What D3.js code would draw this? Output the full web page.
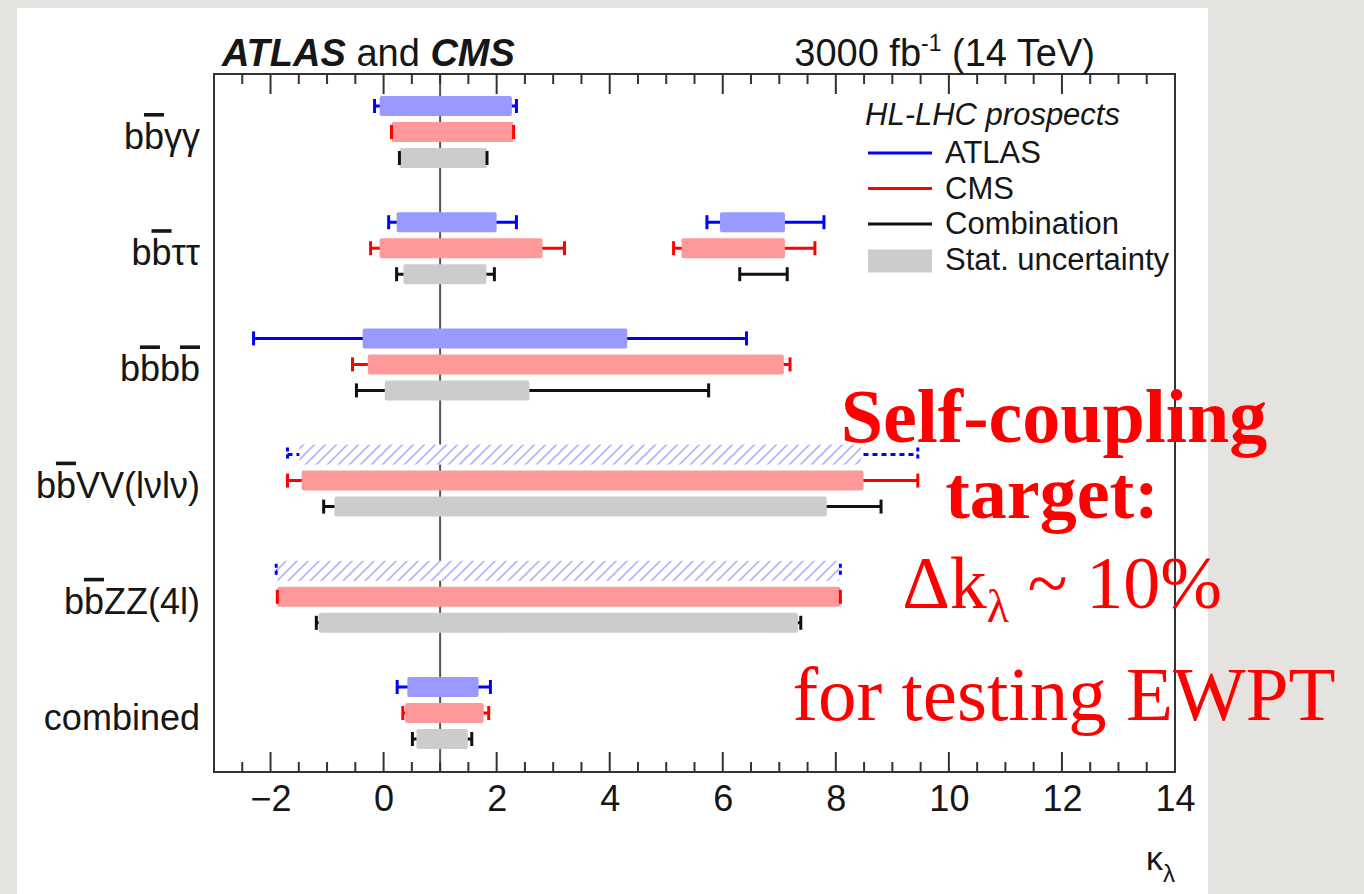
<!DOCTYPE html>
<html>
<head>
<meta charset="utf-8">
<script src="https://cdn.jsdelivr.net/npm/d3@7"></script>
<style>
  html, body { margin: 0; padding: 0; background: #e4e3df; }
  svg { display: block; }
  text { font-family: "Liberation Sans", Arial, Helvetica, sans-serif; fill: #161616; }
</style>
</head>
<body>
<svg id="chart" width="1364" height="894"></svg>
<script>
// Analysis channels, top to bottom
const categories = ["bbγγ", "bbττ", "bbbb", "bbVV(lνlν)", "bbZZ(4l)", "combined"];
// character positions that carry an anti-quark bar
const overlined = [[1], [1], [1, 3], [1], [1], []];

// [channel, total low, total high, stat low, stat high] on kappa_lambda
const atlasIntervals = [
  ["bbγγ",        -0.16, 2.35, -0.07, 2.27],
  ["bbττ",         0.09, 2.35,  0.23, 2.00],
  ["bbττ",         5.72, 7.79,  5.95, 7.10],
  ["bbbb",        -2.30, 6.42, -0.37, 4.31],
  ["bbVV(lνlν)",  -1.70, 9.45, -1.49, 8.45],
  ["bbZZ(4l)",    -1.90, 8.08, -1.88, 8.06],
  ["combined",     0.24, 1.89,  0.42, 1.68]
];
// ATLAS channels shown as hatched boxes with dashed totals
const atlasHatched = ["bbVV(lνlν)", "bbZZ(4l)"];

const cmsIntervals = [
  ["bbγγ",         0.14, 2.30,  0.14, 2.30],
  ["bbττ",        -0.23, 3.20, -0.07, 2.81],
  ["bbττ",         5.13, 7.63,  5.27, 7.10],
  ["bbbb",        -0.55, 7.19, -0.28, 7.08],
  ["bbVV(lνlν)",  -1.70, 9.45, -1.45, 8.49],
  ["bbZZ(4l)",    -1.88, 8.08, -1.88, 8.08],
  ["combined",     0.34, 1.86,  0.38, 1.77]
];

const combIntervals = [
  ["bbγγ",         0.28, 1.83,  0.28, 1.83],
  ["bbττ",         0.23, 1.96,  0.35, 1.82],
  ["bbττ",         6.30, 7.14,  null, null],
  ["bbbb",        -0.48, 5.75,  0.02, 2.58],
  ["bbVV(lνlν)",  -1.06, 8.80, -0.87, 7.84],
  ["bbZZ(4l)",    -1.19, 7.38, -1.15, 7.33],
  ["combined",     0.51, 1.56,  0.58, 1.49]
];

const xTicks = [-2, 0, 2, 4, 6, 8, 10, 12, 14];
const smValue = 1;

const legendTitle = "HL-LHC prospects";
const legendEntries = ["ATLAS", "CMS", "Combination", "Stat. uncertainty"];

const annotationLines = ["Self-coupling", "target:"];

// ---- layout ----
const svg = d3.select("#chart");
const frame = { left: 214, right: 1175, top: 74, bottom: 772 };

const x = d3.scaleLinear().domain([-3, 14]).range([frame.left, frame.right]);
const y = d3.scalePoint().domain(categories).range([132, 713]);

const styles = {
  atlas: { line: "#0000ff", fill: "#9999ff", dy: -26 },
  cms:   { line: "#ff0000", fill: "#ff9999", dy: 0 },
  comb:  { line: "#111111", fill: "#cccccc", dy: 26 }
};
const barH = 20, capH = 14, lineW = 3;

// white page panel
svg.append("rect").attr("x", 17).attr("y", 8).attr("width", 1191).attr("height", 886).attr("fill", "#ffffff");

// hatch pattern
const defs = svg.append("defs");
defs.append("pattern")
  .attr("id", "hatch").attr("patternUnits", "userSpaceOnUse")
  .attr("width", 11).attr("height", 11)
  .append("path")
  .attr("d", "M0,11 L11,0 M-5.5,5.5 L5.5,-5.5 M5.5,16.5 L16.5,5.5")
  .attr("stroke", "#b3b3ff").attr("stroke-width", 1.7);

// SM reference line
svg.append("line")
  .attr("x1", x(smValue)).attr("x2", x(smValue))
  .attr("y1", frame.top).attr("y2", frame.bottom)
  .attr("stroke", "#555").attr("stroke-width", 2);

// ---- intervals ----
function drawSeries(rows, st, hatchedList) {
  const g = svg.append("g");
  rows.forEach(r => {
    const [cat, lo, hi, slo, shi] = r;
    const cy = y(cat) + st.dy;
    const hatched = hatchedList && hatchedList.includes(cat);
    const dash = hatched ? "5,4" : null;
    g.append("line")
      .attr("x1", x(lo)).attr("x2", x(hi)).attr("y1", cy).attr("y2", cy)
      .attr("stroke", st.line).attr("stroke-width", lineW)
      .attr("stroke-dasharray", dash);
    if (slo !== null) {
      g.append("rect")
        .attr("x", x(slo)).attr("y", cy - barH / 2)
        .attr("width", x(shi) - x(slo)).attr("height", barH)
        .attr("rx", 2)
        .attr("fill", hatched ? "#ffffff" : st.fill);
      if (hatched) {
        g.append("rect")
          .attr("x", x(slo)).attr("y", cy - barH / 2)
          .attr("width", x(shi) - x(slo)).attr("height", barH)
          .attr("fill", "url(#hatch)");
      }
    }
    [lo, hi].forEach(v => {
      g.append("line")
        .attr("x1", x(v)).attr("x2", x(v))
        .attr("y1", cy - capH / 2).attr("y2", cy + capH / 2)
        .attr("stroke", st.line).attr("stroke-width", lineW)
        .attr("stroke-dasharray", hatched ? "4,3" : null);
    });
  });
}
drawSeries(atlasIntervals, styles.atlas, atlasHatched);
drawSeries(cmsIntervals, styles.cms, null);
drawSeries(combIntervals, styles.comb, null);

// ---- frame and axes ----
const axisColor = "#333";
svg.append("rect")
  .attr("x", frame.left).attr("y", frame.top)
  .attr("width", frame.right - frame.left).attr("height", frame.bottom - frame.top)
  .attr("fill", "none").attr("stroke", axisColor).attr("stroke-width", 2);

const minorTicks = d3.range(-3, 14.001, 0.5);
const tickG = svg.append("g").attr("stroke", axisColor).attr("stroke-width", 2);
minorTicks.forEach(v => {
  const major = Math.abs(v - Math.round(v)) < 1e-6 && Math.round(v) % 2 === 0;
  const len = major ? 20 : 10;
  tickG.append("line").attr("x1", x(v)).attr("x2", x(v))
    .attr("y1", frame.bottom).attr("y2", frame.bottom - len);
  tickG.append("line").attr("x1", x(v)).attr("x2", x(v))
    .attr("y1", frame.top).attr("y2", frame.top + len);
});

const xAxis = d3.axisBottom(x).tickValues(xTicks).tickSize(0).tickPadding(0);
const axG = svg.append("g").attr("transform", `translate(0,${frame.bottom})`).call(xAxis);
axG.select(".domain").remove();
axG.selectAll("text")
  .attr("y", 39).attr("dy", null)
  .style("font-size", "36px")
  .style("font-family", "'Liberation Sans', Arial, sans-serif")
  .attr("fill", "#161616");

// axis title kappa_lambda
const xt = svg.append("text").attr("x", 1175).attr("y", 870)
  .attr("text-anchor", "end").style("font-size", "34px");
xt.append("tspan").text("κ");
xt.append("tspan").attr("dy", 12).style("font-size", "24px").text("λ");

// ---- category labels ----
categories.forEach((c, i) => {
  const t = svg.append("text")
    .attr("x", 200).attr("y", y(c) + 17)
    .attr("text-anchor", "end").style("font-size", "36px");
  Array.from(c).forEach((ch, k) => {
    const s = t.append("tspan").text(ch);
    if (overlined[i].includes(k)) s.style("text-decoration", "overline");
  });
});

// ---- header ----
const hdr = svg.append("text").attr("x", 222).attr("y", 66).style("font-size", "38px");
hdr.append("tspan").style("font-weight", "bold").style("font-style", "italic").text("ATLAS");
hdr.append("tspan").text(" and ");
hdr.append("tspan").style("font-weight", "bold").style("font-style", "italic").text("CMS");

const lumi = svg.append("text").attr("x", 1095).attr("y", 66)
  .attr("text-anchor", "end").style("font-size", "38px");
lumi.append("tspan").text("3000 fb");
lumi.append("tspan").attr("dy", -15).style("font-size", "23px").text("-1");
lumi.append("tspan").attr("dy", 15).text(" (14 TeV)");

// ---- legend ----
svg.append("text").attr("x", 865).attr("y", 125)
  .style("font-size", "31px").style("font-style", "italic").text(legendTitle);
const legendColors = [styles.atlas.line, styles.cms.line, styles.comb.line];
legendEntries.forEach((name, i) => {
  const cy = 153 + i * 35.5;
  if (i < 3) {
    svg.append("line").attr("x1", 868).attr("x2", 932).attr("y1", cy).attr("y2", cy)
      .attr("stroke", legendColors[i]).attr("stroke-width", 3);
  } else {
    svg.append("rect").attr("x", 868).attr("y", cy - 10).attr("width", 64).attr("height", 23)
      .attr("fill", styles.comb.fill);
  }
  svg.append("text").attr("x", 945).attr("y", cy + 10)
    .style("font-size", "31px").text(name);
});

// ---- annotation ----
const red = "#ff0000";
const serif = "'Liberation Serif', 'Times New Roman', serif";
svg.append("text").attr("x", 1054).attr("y", 442).attr("text-anchor", "middle")
  .style("font-family", serif).style("font-weight", "bold").style("font-size", "76px")
  .style("fill", red).text(annotationLines[0]);
svg.append("text").attr("x", 1052).attr("y", 518).attr("text-anchor", "middle")
  .style("font-family", serif).style("font-weight", "bold").style("font-size", "74px")
  .style("fill", red).text(annotationLines[1]);
const delta = svg.append("text").attr("x", 1062).attr("y", 608).attr("text-anchor", "middle")
  .style("font-family", serif).style("font-size", "74px").style("fill", red);
delta.append("tspan").text("Δk");
delta.append("tspan").attr("dy", 14).style("font-size", "46px").text("λ");
delta.append("tspan").attr("dy", -14).text(" ~ 10%");
svg.append("text").attr("x", 1064).attr("y", 720).attr("text-anchor", "middle")
  .style("font-family", serif).style("font-size", "77px").style("fill", red)
  .text("for testing EWPT");
</script>
</body>
</html>
